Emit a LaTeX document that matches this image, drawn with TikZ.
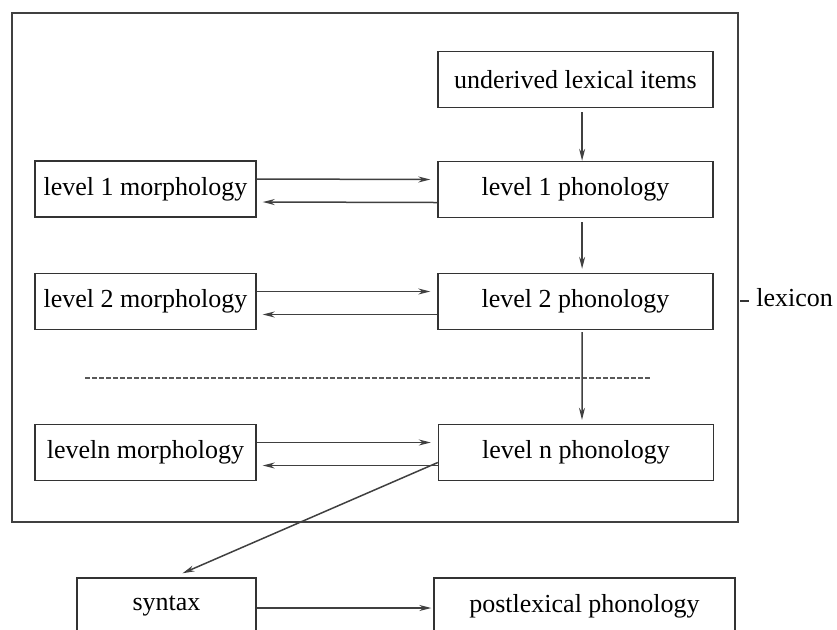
\documentclass[tikz,border=0pt]{standalone}
\usepackage{fontspec}
\setmainfont{Liberation Serif}
\usetikzlibrary{arrows.meta,calc}
\tikzset{
  box/.style={draw=black!80,line width=.7pt,minimum height=28pt,inner sep=0pt,font=\fontsize{13}{15}\selectfont},
  morphbox/.style={box,minimum width=110.5pt},
  phonbox/.style={box,minimum width=137.5pt},
  link/.style={draw=black!75,line width=.75pt,-{Stealth[length=6pt,width=3pt]}}
}
\begin{document}
\begin{tikzpicture}[x=.5pt,y=-.5pt]
\useasboundingbox(0,0)rectangle(837,629);
\clip(0,0)rectangle(837,629);
%lexicon frame
\coordinate (lexNW) at (12,13);
\coordinate (lexSE) at (738,522);
\draw[black!75,line width=.7pt](lexNW)rectangle(lexSE);
\coordinate (dashA) at (740,301);
\coordinate (dashB) at (749,301);
\draw[black!80,line width=.7pt](dashA)--(dashB);
\node[font=\fontsize{13}{15}\selectfont,anchor=west,inner sep=0pt] (lexicon) at (756,298) {lexicon};
%boxes
\node[phonbox] (underived) at (575.5,79.5) {underived lexical items};
\node[phonbox] (phon1) at (575.5,189.5) {level 1 phonology};
\node[phonbox] (phon2) at (575.5,301.5) {level 2 phonology};
\node[phonbox] (phonn) at (576,452.5) {level n phonology};
\node[morphbox] (morph1) at (145.5,189) {level 1 morphology};
\node[morphbox] (morph2) at (145.5,301.5) {level 2 morphology};
\node[morphbox] (morphn) at (145.5,452.5) {leveln morphology};
\node[box,minimum width=89.5pt] (syntax) at (166.5,606) {syntax};
\node[box,minimum width=150.5pt] (post) at (584.5,606) {postlexical phonology};
%level separator
\coordinate (sepL) at (85,378);
\coordinate (sepR) at (651,378);
\draw[black!65,line width=.8pt,dash pattern=on 2.5pt off 1pt](sepL)--(sepR);
%vertical arrows
\draw[link]([xshift=3.3pt,yshift=-2pt]underived.south)--([xshift=3.3pt]phon1.north);
\draw[link]([xshift=3.3pt,yshift=-2pt]phon1.south)--([xshift=3.3pt,yshift=2pt]phon2.north);
\draw[link]([xshift=3.3pt,yshift=-1pt]phon2.south)--([xshift=3pt,yshift=2pt]phonn.north);
%morphology <-> phonology
\foreach \m/\p in {morph1/phon1,morph2/phon2,morphn/phonn}{
  \draw[link]([yshift=5pt]\m.east)--([xshift=-3.5pt,yshift=5pt]\p.west);
  \draw[link]([yshift=-6.5pt]\p.west)--([xshift=3pt,yshift=-6.5pt]\m.east);
}
%out of the lexicon
\draw[link]([yshift=-5pt]phonn.west)--([xshift=8pt,yshift=2pt]syntax.north);
\draw[link]([yshift=-1pt]syntax.east)--([xshift=-1pt,yshift=-1pt]post.west);
\end{tikzpicture}
\end{document}
